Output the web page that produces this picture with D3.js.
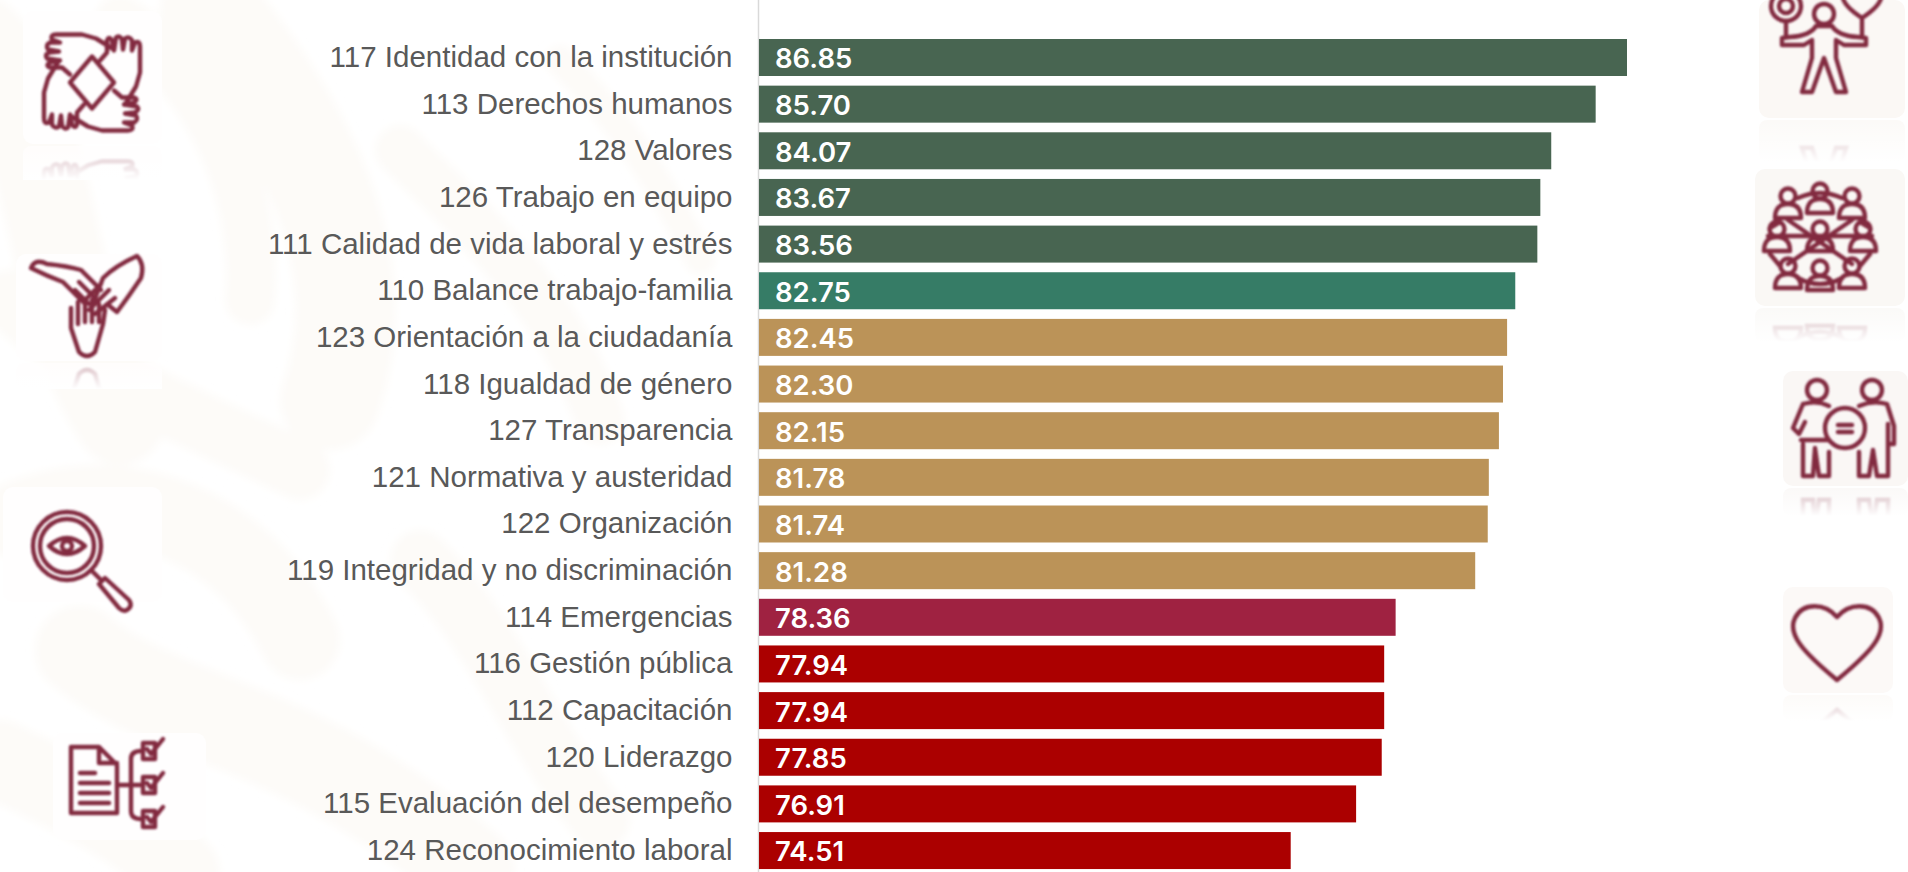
<!DOCTYPE html>
<html><head><meta charset="utf-8">
<script src="https://cdn.jsdelivr.net/npm/d3@7"></script>
<style>html,body{margin:0;padding:0;background:#fff;overflow:hidden}svg{display:block}</style>
</head><body><svg id="c" width="1908" height="872"></svg>
<script>
const categories=["117 Identidad con la institución","113 Derechos humanos","128 Valores","126 Trabajo en equipo","111 Calidad de vida laboral y estrés","110 Balance trabajo-familia","123 Orientación a la ciudadanía","118 Igualdad de género","127 Transparencia","121 Normativa y austeridad","122 Organización","119 Integridad y no discriminación","114 Emergencias","116 Gestión pública","112 Capacitación","120 Liderazgo","115 Evaluación del desempeño","124 Reconocimiento laboral"];
const values=[86.85,85.70,84.07,83.67,83.56,82.75,82.45,82.30,82.15,81.78,81.74,81.28,78.36,77.94,77.94,77.85,76.91,74.51];
const barColors=["#486551","#486551","#486551","#486551","#486551","#367c66","#bb9358","#bb9358","#bb9358","#bb9358","#bb9358","#bb9358","#9f2241","#ab0000","#ab0000","#ab0000","#ab0000","#ab0000"];

const svg=d3.select("#c");
const defs=svg.append("defs");
defs.append("filter").attr("id","soft").append("feGaussianBlur").attr("stdDeviation",1);
defs.append("filter").attr("id","wm").append("feGaussianBlur").attr("stdDeviation",4);
const lg=defs.append("linearGradient").attr("id","fade").attr("x1",0).attr("x2",0).attr("y1",0).attr("y2",1);
lg.append("stop").attr("offset",0).attr("stop-color","#fff").attr("stop-opacity",0);
lg.append("stop").attr("offset",1).attr("stop-color","#fff").attr("stop-opacity",1);

// faint watermark behind the chart
const wm=svg.append("g").attr("fill","none").attr("stroke","#fdfbf8").attr("stroke-linecap","round").attr("filter","url(#wm)");
[["M-20,40 C60,120 40,300 120,420",90],["M210,10 C300,120 380,260 330,400",100],["M120,20 C180,60 260,160 250,300",50],["M10,300 C90,380 200,420 300,470",60],
 ["M20,520 C120,480 240,520 300,640",80],["M80,650 C160,720 300,720 470,870",90],["M400,150 C470,220 560,300 600,420",50],["M420,560 C500,640 520,720 600,820",60],["M0,760 C60,790 130,820 180,872",80],["M560,60 C620,120 660,180 700,260",30]]
 .forEach(d=>wm.append("path").attr("d",d[0]).attr("stroke-width",d[1]));

const left=759;
const x=d3.scaleLinear().domain([55,86.85]).range([left,1627]);
const y=d3.scaleBand().domain(categories).range([39,869.05]).paddingInner(0.207).paddingOuter(0);

// left axis
const ax=svg.append("g").attr("transform",`translate(${left-0.5},0)`)
  .call(d3.axisLeft(y).tickSize(0).tickPadding(26));
ax.select(".domain").attr("d","M0,0V872").attr("stroke","#d9d9d9").attr("stroke-width",1.5);
ax.selectAll("text").attr("font-family","'Liberation Sans',Arial,sans-serif").attr("font-size",29.5).attr("fill","#595959");

svg.append("g").selectAll("rect").data(values).join("rect")
  .attr("x",x(55)).attr("y",(d,i)=>y(categories[i])).attr("height",y.bandwidth())
  .attr("width",d=>x(d)-x(55)).attr("fill",(d,i)=>barColors[i]);
svg.append("g").selectAll("text").data(values).join("text")
  .attr("x",x(55)+16).attr("y",(d,i)=>y(categories[i])+y.bandwidth()/2+1).attr("dy","0.36em")
  .attr("font-family","Inter,sans-serif").attr("font-weight",600).attr("font-size",27.5).attr("fill","#fff")
  .text(d=>d.toFixed(2));

// decorative pictograms: tile, icon, faded reflection
const iconColor="#82293f";
function tile(box,drawIcon,reflH){
  const [x0,y0,w,h]=box;
  const g=svg.append("g");
  g.append("rect").attr("x",x0).attr("y",y0).attr("width",w).attr("height",h).attr("rx",10).attr("fill",box[4]||"#fffefe");
  const ic=g.append("g").attr("fill","none").attr("stroke",iconColor).attr("stroke-width",4.4)
    .attr("stroke-linejoin","round").attr("stroke-linecap","round").attr("filter","url(#soft)");
  drawIcon(ic);
  // reflection
  const bottom=y0+h;
  const clipId="cl"+Math.round(x0)+"_"+Math.round(y0);
  defs.append("clipPath").attr("id",clipId).append("rect").attr("x",x0).attr("y",bottom+2).attr("width",w).attr("height",reflH);
  const r=g.append("g").attr("clip-path",`url(#${clipId})`);
  r.append("rect").attr("x",x0).attr("y",bottom+2).attr("width",w).attr("height",reflH).attr("rx",8).attr("fill",box[4]||"#fffefe").attr("opacity",.7);
  const m=r.append("g").attr("transform",`translate(0,${2*bottom+4}) scale(1,-1)`).attr("opacity",.3)
    .attr("fill","none").attr("stroke",iconColor).attr("stroke-width",4.4).attr("filter","url(#soft)");
  drawIcon(m);
  r.append("rect").attr("x",x0).attr("y",bottom+2).attr("width",w).attr("height",reflH).attr("fill","url(#fade)");
}
const at=(g,x,y,s=1)=>g.append("g").attr("transform",`translate(${x},${y}) scale(${s})`);

// four hands
tile([23,11,139,133],g=>{
  const c=at(g,92,82.5,1);
  c.append("path").attr("d","M0,-26L22,0L0,26L-22,0Z");
  [0,90,180,270].forEach(a=>{
    c.append("g").attr("transform",`rotate(${a})`).append("path")
     .attr("d","M8,-22L15,-30L15,-42Q17,-47 20,-42L22,-32L24,-45Q27,-48 30,-43L31,-33L33,-44Q37,-47 40,-42L40,-32L43,-40Q48,-42 48,-36L48,-10L44,4L33,22");
  });
},34);

// three hands
tile([16,254,146,107],g=>{
  const c=at(g,87,258,1);
  c.append("path").attr("d","M-6,42L-24,24Q-40,18 -56,10Q-52,0 -40,6Q-20,8 -6,12L8,26M-2,16L14,32M-8,24L8,40M-12,32L2,46");
  c.append("path").attr("d","M6,46L16,20Q28,8 50,-2Q58,6 54,20Q42,38 30,54L20,46M14,26L-4,44M22,32L2,52M28,40L8,56");
  c.append("path").attr("d","M-16,50L-16,70L-8,94Q0,102 8,94L16,66L18,52M-9,44L-9,66M-2,42L-2,64M5,42L5,64M12,46L12,64");
},26);

// magnifier
tile([3,487,159,115],g=>{
  const c=at(g,67,546,1);
  c.append("circle").attr("r",34);c.append("circle").attr("r",27);
  c.append("path").attr("d","M-18,0Q0,-16 18,0Q0,16 -18,0Z");
  c.append("circle").attr("r",5);
  c.append("path").attr("d","M24,24L34,34M32,38L38,32L62,54Q66,60 60,64Q56,66 52,62Z");
},0);

// document tree
tile([53,733,153,107],g=>{
  const c=at(g,71,741,1);
  c.append("path").attr("d","M0,6H28L46,24V72H0ZM28,6V22H46M9,32H24M9,42H38M9,52H38M9,62H38");
  c.append("path").attr("d","M46,44H60M60,44V18Q60,10 70,10M60,44H72M60,44V70Q60,78 70,78");
  [10,44,78].forEach(cy=>c.append("path").attr("d",`M72,${cy-8}H84V${cy+8}H72ZM76,${cy-2}L80,${cy+3}L92,${cy-12}`));
},0);

// person with gear and heart
tile([1759,0,146,118,"#fbf8f5"],g=>{
  const c=at(g,1824,0,1);
  c.append("circle").attr("cy",14).attr("r",10);
  c.append("path").attr("d","M-8,26Q-14,36 -34,37L-42,38V45H-20L-12,40V58L-22,92H-12L0,58L12,92H22L12,58V40L20,45H42V38L34,37Q14,36 8,26Z");
  c.append("circle").attr("cx",-38).attr("cy",6).attr("r",7);c.append("circle").attr("cx",-38).attr("cy",6).attr("r",15);
  c.append("path").attr("d","M-38,22V36M38,20V36");
  c.append("path").attr("d","M38,18Q14,2 20,-8M38,18Q62,2 56,-8");
},42);

// network of people
tile([1755,169,150,137,"#faf8f5"],g=>{
  const c=at(g,1820,238,1);
  const person=(px,py)=>{const p=at(c,px,py,1);p.append("circle").attr("cy",-11).attr("r",7.5);p.append("path").attr("d","M-13,11Q-13,-3 0,-3Q13,-3 13,11Z");};
  [[-32,-31],[0,-36],[32,-31],[-43,2],[0,2],[43,2],[-32,39],[0,41],[32,39]].forEach(p=>person(p[0],p[1]));
  c.append("path").attr("d","M-32,-18L32,26M32,-18L-32,26M-52,-2H52M-22,-40Q0,-50 22,-40M-22,40Q0,52 22,40M-40,-16L-50,-10M40,-16L50,-10M-40,28L-50,16M40,28L50,16");
},34);

// equality
tile([1783,371,125,115,"#faf7f5"],g=>{
  const c=at(g,1843,430,1);
  c.append("circle").attr("cx",-26).attr("cy",-40).attr("r",10);c.append("circle").attr("cx",29).attr("cy",-40).attr("r",10);
  c.append("circle").attr("cx",2).attr("cy",-2).attr("r",20);
  c.append("path").attr("d","M-5,-5H9M-5,2H9");
  c.append("path").attr("d","M-40,-26Q-26,-30 -14,-24M-40,-26L-50,-2L-44,4L-38,-8M-42,10H-14M-40,14V46H-30L-28,18L-24,46H-14V22");
  c.append("path").attr("d","M16,-24Q30,-30 44,-26L51,-4V14H45V-6M45,-6V46H34L30,20L26,46H16V22");
},28);

// heart
tile([1783,587,110,106,"#fcf9f7"],g=>{
  const c=at(g,1837,620,1);
  c.append("path").attr("d","M0,-3C-12,-17 -34,-18 -42,-2C-50,14 -34,32 0,60C34,32 50,14 42,-2C34,-18 12,-17 0,-3Z");
},26);
</script></body></html>
